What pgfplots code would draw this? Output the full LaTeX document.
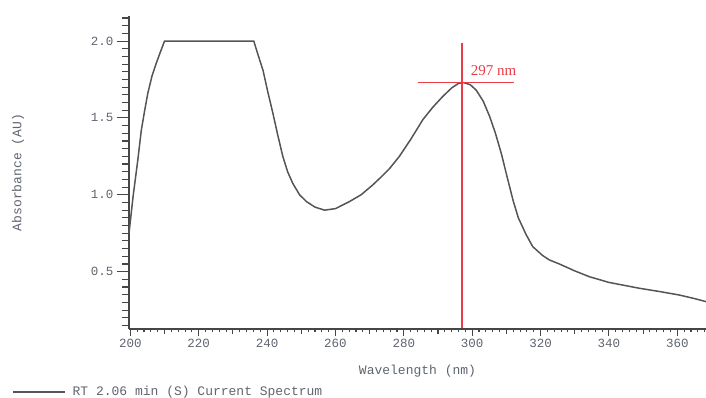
\documentclass[border=0pt]{standalone}
\usepackage{pgfplots}
\pgfplotsset{compat=1.18}
\usepackage{fontspec}
\setmainfont{Liberation Mono}
\newfontfamily\serifr{Liberation Serif}
\definecolor{curve}{RGB}{85,85,85}
\definecolor{axc}{RGB}{70,70,70}
\definecolor{lbl}{RGB}{95,100,110}
\definecolor{redm}{RGB}{232,60,70}
\pgfplotstableread{
x y
199.6 0.75
200.8 0.99
202.2 1.23
203.2 1.42
204.2 1.55
205.1 1.66
206.3 1.77
207.6 1.857
208.8 1.93
210.0 2.0
236.1 2.0
237.5 1.90
238.8 1.81
240.2 1.67
241.7 1.53
243.1 1.39
244.6 1.25
246.0 1.15
247.5 1.075
249.5 1.00
251.5 0.956
254.0 0.92
256.8 0.90
260.0 0.91
264.1 0.956
267.5 1.00
270.9 1.064
273.0 1.108
275.8 1.17
278.7 1.25
282.0 1.36
285.6 1.49
288.5 1.57
291.4 1.64
294.0 1.695
296.0 1.725
297.5 1.73
299.5 1.715
301.2 1.68
303.2 1.61
305.1 1.51
306.8 1.40
308.5 1.27
310.4 1.10
312.0 0.96
313.5 0.85
315.8 0.74
317.7 0.663
320.6 0.605
322.6 0.576
325.5 0.55
330.0 0.505
334.3 0.467
340.0 0.43
348.9 0.392
355.0 0.37
360.6 0.348
365.0 0.325
368.4 0.305
}\spectrum
\begin{document}
\begin{tikzpicture}
\begin{axis}[
  name=ax,
  scale only axis,
  width=577pt, height=313pt,
  xmin=199.6, xmax=368.4,
  ymin=0.127, ymax=2.163,
  axis x line=none,
  axis y line*=left,
  axis line style={color=axc, line width=1.1pt},
  y axis line style={-},
  ytick={0.5,1.0,1.5,2.0},
  yticklabels={0.5,1.0,1.5,2.0},
  minor ytick={0.15,0.2,...,2.16},
  tick align=outside,
  major tick length=12pt,
  minor tick length=7pt,
  tick style={color=axc, line width=1.1pt},
  yticklabel style={font=\fontsize{12.5}{14}\selectfont, color=lbl},
  /pgf/number format/assume math mode=true,
  ylabel={Absorbance (AU)},
  ylabel style={at={(axis description cs:-0.1924,0.5)}, anchor=center, font=\fontsize{13}{15}\selectfont, color=lbl},
  clip=false,
  legend style={at={(axis description cs:-0.2028,-0.2013)}, anchor=west, draw=none, fill=none, inner sep=0pt,
     font=\fontsize{13}{15}\selectfont, text=lbl, nodes={inner sep=0pt},
     /tikz/every odd column/.style={column sep=7pt}},
  legend cell align=left,
  legend image code/.code={\draw[curve, line width=1.5pt] (0pt,0pt) -- (52pt,0pt);},
]
\addplot[curve, line width=1.5pt] table[x=x,y=y] {\spectrum};
\addlegendentry{RT 2.06 min (S) Current Spectrum}
\addplot[draw=redm, line width=1.3pt, forget plot] coordinates {(297,1.99) (297,0.127)};
\addplot[draw=redm, line width=1.3pt, forget plot] coordinates {(284.0,1.73) (312.1,1.73)};
\node[anchor=base west, inner sep=0pt, text=redm, font=\serifr\fontsize{15}{17}\selectfont] at (axis cs:299.57,1.773) {297 nm};
\end{axis}
\begin{axis}[
  scale only axis,
  width=577pt, height=313pt,
  xmin=199.6, xmax=368.4,
  ymin=0.127, ymax=2.163,
  axis y line=none,
  axis x line*=bottom,
  axis line style={color=axc, line width=1.1pt, -},
  xtick={200,220,...,360},
  xticklabels={200,220,240,260,280,300,320,340,360},
  minor xtick={200,202,...,368},
  extra x ticks={210,230,...,350},
  extra x tick labels={},
  extra x tick style={major tick length=5.5pt},
  tick align=outside,
  major tick length=7pt,
  minor tick length=3.5pt,
  tick style={color=axc, line width=1.1pt},
  xticklabel style={font=\fontsize{12.5}{14}\selectfont, color=lbl},
  /pgf/number format/assume math mode=true,
  xlabel={Wavelength (nm)},
  xlabel style={at={(axis description cs:0.5,-0.134)}, anchor=center, font=\fontsize{13}{15}\selectfont, color=lbl},
]
\end{axis}
\pgfresetboundingbox
\path ([shift={(-129pt,-69pt)}]ax.south west) rectangle ([shift={(0pt,16pt)}]ax.north east);
\end{tikzpicture}
\end{document}
